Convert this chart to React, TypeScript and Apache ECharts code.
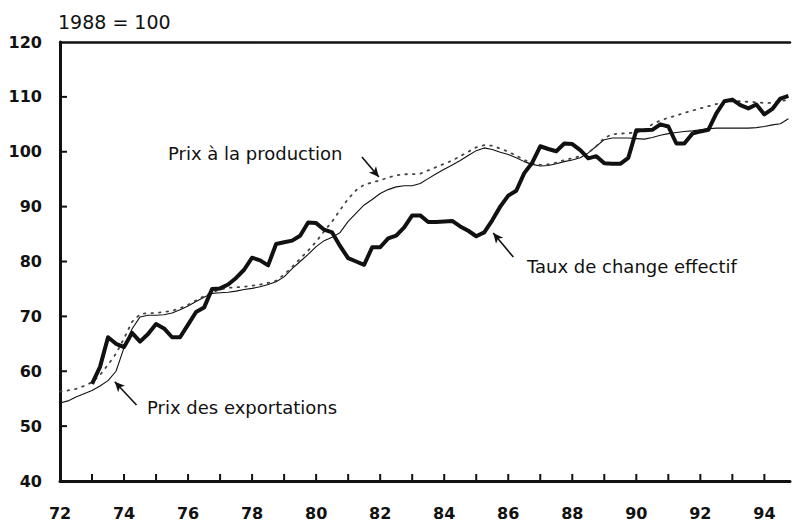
import React, { useEffect, useRef } from "react";
import * as echarts from "echarts";

// Quarterly series, starting years
const tauxStart = 73.0;
const tauxChange = [
  57.7, 60.8, 66.2, 65.0, 64.4, 67.0, 65.4, 66.8, 68.6, 67.8, 66.2, 66.2,
  68.5, 70.8, 71.6, 75.0, 75.1, 75.8, 77.0, 78.5, 80.7, 80.2, 79.3, 83.2,
  83.5, 83.8, 84.7, 87.1, 87.0, 85.8, 85.3, 82.8, 80.6, 80.0, 79.4, 82.6,
  82.6, 84.2, 84.7, 86.2, 88.4, 88.4, 87.2, 87.2, 87.3, 87.4, 86.4, 85.6,
  84.6, 85.3, 87.5, 90.0, 92.0, 92.9, 96.1, 98.0, 101.0, 100.5, 100.1, 101.5,
  101.4, 100.3, 98.8, 99.2, 97.9, 97.8, 97.8, 98.9, 103.9, 103.9, 104.0, 105.0,
  104.6, 101.5, 101.5, 103.3, 103.7, 104.0, 107.0, 109.2, 109.5, 108.5, 107.9, 108.6,
  106.8, 107.8, 109.7, 110.2,
];

const exportStart = 72.0;
const prixExportations = [
  54.2, 54.6, 55.3, 55.9, 56.5, 57.3, 58.3, 60.0, 64.3, 67.7, 69.9, 70.2,
  70.2, 70.3, 70.6, 71.2, 71.9, 72.7, 73.5, 74.2, 74.3, 74.4, 74.6, 74.9,
  75.1, 75.4, 75.8, 76.3, 77.2, 78.7, 80.0, 81.3, 82.7, 83.8, 84.4, 85.3,
  87.3, 88.8, 90.3, 91.3, 92.4, 93.1, 93.6, 93.8, 93.8, 94.2, 95.1, 96.0,
  96.8, 97.6, 98.4, 99.3, 100.2, 100.7, 100.4, 99.9, 99.5, 98.9, 98.2, 97.7,
  97.4, 97.5, 97.8, 98.2, 98.5, 98.9, 99.8, 101.0, 102.2, 102.5, 102.5, 102.5,
  102.4, 102.3, 102.6, 103.0, 103.3, 103.5, 103.7, 103.8, 104.0, 104.2, 104.3, 104.3,
  104.3, 104.3, 104.3, 104.4, 104.6, 104.9, 105.1, 106.0,
];

const productionStart = 72.0;
const prixProduction = [
  56.3, 56.5, 56.8, 57.3, 58.0, 59.3, 61.2, 63.2, 66.0, 69.0, 70.4, 70.6,
  70.6, 70.8, 71.0, 71.5, 72.1, 72.9, 73.7, 74.4, 74.9, 75.2, 75.3, 75.4,
  75.6, 75.8, 76.1, 76.5, 77.6, 79.0, 80.5, 82.0, 83.6, 85.5, 87.3, 89.4,
  91.4, 93.0, 94.0, 94.4, 94.8, 95.3, 95.7, 95.9, 95.9, 96.0, 96.6, 97.2,
  97.8, 98.4, 99.2, 100.0, 100.8, 101.2, 101.1, 100.6, 100.0, 99.3, 98.5, 97.9,
  97.6, 97.7, 98.0, 98.5, 98.8, 99.2, 99.8, 101.0, 102.5, 103.2, 103.3, 103.4,
  103.5, 104.0, 105.0, 105.7, 106.2, 106.6, 107.1, 107.5, 107.9, 108.3, 108.7, 109.0,
  109.2, 109.2, 109.1, 109.0, 108.9, 108.9, 109.2, 109.5,
];

// Axis tick positions (yearly on x, every 10 on y)
const xTickYears = [73, 74, 75, 76, 77, 78, 79, 80, 81, 82, 83, 84, 85, 86, 87, 88, 89, 90, 91, 92, 93, 94];
const yTickValues = [50, 60, 70, 80, 90, 100, 110];

const xMin = 72;
const xMax = 94.8;
const yMin = 40;
const yMax = 120;

const unitLabel = "1988 = 100";
const labelProduction = "Prix à la production";
const labelExportations = "Prix des exportations";
const labelTaux = "Taux de change effectif";

const toPairs = (start: number, vals: number[]) =>
  vals.map((v, i) => [start + i * 0.25, v]);

const INK = "#111";
const TICK_LEN = 7;

export default function App() {
  const ref = useRef<HTMLDivElement>(null);

  useEffect(() => {
    if (!ref.current) return;
    const chart = echarts.init(ref.current, undefined, { renderer: "svg" });

    const arrow = (from: number[], to: number[]) => ({
      silent: true,
      symbol: ["none", "arrow"],
      symbolSize: [7, 10],
      label: { show: false },
      lineStyle: { color: INK, width: 1.6, type: "solid" },
      data: [[{ coord: from }, { coord: to }]],
    });

    const tickData = [
      ...xTickYears.map((y) => [y, yMin, 0]),
      ...yTickValues.map((v) => [xMin, v, 1]),
    ];

    chart.setOption({
      animation: false,
      backgroundColor: "#fff",
      grid: { left: 60, top: 42, width: 733, height: 439, containLabel: false },
      xAxis: [
        {
          type: "value",
          min: xMin,
          max: xMax,
          interval: 1,
          axisLine: { show: true, lineStyle: { color: INK, width: 3 } },
          axisTick: { show: false },
          axisLabel: {
            color: INK,
            fontFamily: "DejaVu Sans",
            fontWeight: "bold",
            fontSize: 16,
            margin: 24,
            formatter: (v: number) =>
              Number.isInteger(v) && v % 2 === 0 ? String(v) : "",
          },
          splitLine: { show: false },
        },
        {
          type: "value",
          position: "top",
          min: xMin,
          max: xMax,
          axisLine: { show: true, lineStyle: { color: INK, width: 2.5 } },
          axisTick: { show: false },
          axisLabel: { show: false },
          splitLine: { show: false },
        },
      ],
      yAxis: {
        type: "value",
        min: yMin,
        max: yMax,
        interval: 10,
        axisLine: { show: true, lineStyle: { color: INK, width: 3 } },
        axisTick: { show: false },
        axisLabel: {
          color: INK,
          fontFamily: "DejaVu Sans",
          fontWeight: "bold",
          fontSize: 16,
          margin: 18,
        },
        splitLine: { show: false },
      },
      series: [
        {
          name: labelExportations,
          type: "line",
          data: toPairs(exportStart, prixExportations),
          showSymbol: false,
          lineStyle: { color: INK, width: 1.1 },
          markLine: arrow([74.39, 53.85], [73.71, 58.1]),
        },
        {
          name: labelProduction,
          type: "line",
          data: toPairs(productionStart, prixProduction),
          showSymbol: false,
          lineStyle: { color: "#444", width: 1.8, type: [1.6, 6], cap: "round" },
          markLine: arrow([81.43, 99.04], [81.96, 95.4]),
        },
        {
          name: labelTaux,
          type: "line",
          data: toPairs(tauxStart, tauxChange),
          showSymbol: false,
          lineStyle: { color: INK, width: 4, join: "round" },
          markLine: arrow([86.16, 80.8], [85.53, 85.2]),
        },
        {
          name: "ticks",
          type: "custom",
          silent: true,
          clip: false,
          z: 10,
          data: tickData,
          renderItem: (_params: any, api: any) => {
            const p = api.coord([api.value(0), api.value(1)]);
            const vertical = api.value(2) === 0;
            return {
              type: "rect",
              shape: vertical
                ? { x: p[0] - 1, y: p[1] - TICK_LEN, width: 2, height: TICK_LEN }
                : { x: p[0], y: p[1] - 1, width: TICK_LEN, height: 2 },
              style: { fill: INK },
            };
          },
        },
      ],
      graphic: [
        {
          type: "text",
          x: 58,
          y: 22,
          style: {
            text: unitLabel,
            font: "19px 'DejaVu Sans'",
            fill: INK,
            verticalAlign: "middle",
          },
        },
        {
          type: "text",
          x: 168,
          y: 153,
          style: {
            text: labelProduction,
            font: "18px 'DejaVu Sans'",
            fill: INK,
            verticalAlign: "middle",
          },
        },
        {
          type: "text",
          x: 147,
          y: 407,
          style: {
            text: labelExportations,
            font: "18px 'DejaVu Sans'",
            fill: INK,
            verticalAlign: "middle",
          },
        },
        {
          type: "text",
          x: 527,
          y: 266,
          style: {
            text: labelTaux,
            font: "18px 'DejaVu Sans'",
            fill: INK,
            verticalAlign: "middle",
          },
        },
      ],
    });

    return () => chart.dispose();
  }, []);

  return (
    <div
      ref={ref}
      style={{ position: "fixed", left: 0, top: 0, width: 793, height: 525, background: "#fff" }}
    />
  );
}
